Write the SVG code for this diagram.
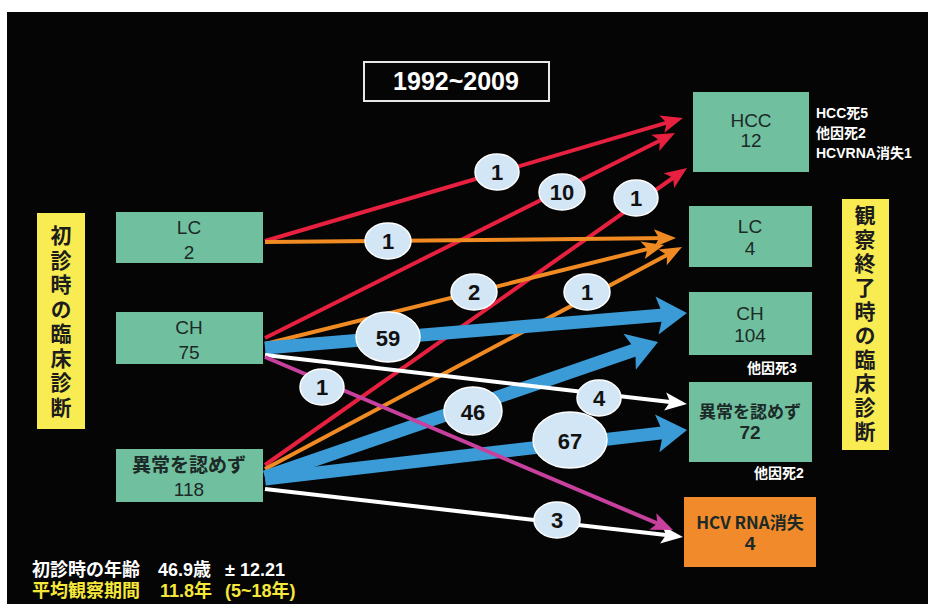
<svg xmlns="http://www.w3.org/2000/svg" width="928" height="604" viewBox="0 0 928 604">
<defs>
<style>
.bg{fill:#050505}
.node{fill:#70bf9f}
.hcv{fill:#f08a2a}
.ylab{fill:#f8ec52}
.nt{font-family:"Liberation Sans","Noto Sans CJK JP",sans-serif;font-size:19px;fill:#1c2a27;text-anchor:middle}
.njp{font-family:"Noto Sans CJK JP",sans-serif;font-size:17px;font-weight:bold;fill:#1c2a27;text-anchor:middle}
.vt{font-family:"Noto Sans CJK JP",sans-serif;font-size:21px;font-weight:bold;fill:#1c1c1c;text-anchor:middle;writing-mode:vertical-rl;text-orientation:upright}
.ann{font-family:"Liberation Sans","Noto Sans CJK JP",sans-serif;font-size:14px;font-weight:bold;fill:#ffffff}
.bt{font-family:"Liberation Sans","Noto Sans CJK JP",sans-serif;font-size:18px;font-weight:bold}
.thin{fill:none;stroke-width:4}
.thick{fill:none;stroke-width:13}
.lab{fill:#d2e6f5;stroke:#ffffff;stroke-width:1.5}
.lt{font-family:"Liberation Sans",sans-serif;font-size:22px;font-weight:bold;fill:#111;text-anchor:middle}
</style>
<marker id="aR" markerUnits="userSpaceOnUse" markerWidth="30" markerHeight="30" viewBox="-20 -15 30 30" refX="0" refY="0" orient="auto"><path d="M6,0 L-16,-9 L-11,0 L-16,9 Z" fill="#e82040"/></marker>
<marker id="aO" markerUnits="userSpaceOnUse" markerWidth="30" markerHeight="30" viewBox="-20 -15 30 30" refX="0" refY="0" orient="auto"><path d="M6,0 L-16,-9 L-11,0 L-16,9 Z" fill="#f08a22"/></marker>
<marker id="aW" markerUnits="userSpaceOnUse" markerWidth="30" markerHeight="30" viewBox="-20 -15 30 30" refX="0" refY="0" orient="auto"><path d="M6,0 L-16,-9 L-11,0 L-16,9 Z" fill="#ffffff"/></marker>
<marker id="aM" markerUnits="userSpaceOnUse" markerWidth="30" markerHeight="30" viewBox="-20 -15 30 30" refX="0" refY="0" orient="auto"><path d="M6,0 L-16,-9 L-11,0 L-16,9 Z" fill="#c8409e"/></marker>
<marker id="aB" markerUnits="userSpaceOnUse" markerWidth="40" markerHeight="40" viewBox="-20 -20 40 40" refX="0" refY="0" orient="auto"><path d="M14,0 L-16,-19 L-10,0 L-16,19 Z" fill="#3b9bd6"/></marker>
</defs>
<rect x="0" y="0" width="928" height="604" fill="#ffffff"/>
<rect class="bg" x="7" y="12" width="921" height="592"/>

<g id="title">
<rect x="364" y="62" width="185" height="39" fill="none" stroke="#e8e8e8" stroke-width="2"/>
<text x="456" y="90" font-family="Liberation Sans,sans-serif" font-size="25" font-weight="bold" fill="#ffffff" text-anchor="middle">1992~2009</text>
</g>

<g id="label-left">
<rect class="ylab" x="37" y="213" width="48" height="216"/>
<text class="vt" x="61" y="323" letter-spacing="3.5">初診時の臨床診断</text>
</g>

<g id="label-right">
<rect class="ylab" x="842" y="199" width="47" height="251"/>
<text class="vt" x="865" y="325" letter-spacing="3">観察終了時の臨床診断</text>
</g>

<g id="connectors">
<line class="thin" stroke="#e82040" x1="265" y1="241" x2="677.2" y2="119.7" marker-end="url(#aR)"/>
<line class="thin" stroke="#e82040" x1="265" y1="338" x2="669.6" y2="135.7" marker-end="url(#aR)"/>
<line class="thin" stroke="#e82040" x1="265" y1="465" x2="682.1" y2="171.5" marker-end="url(#aR)"/>
<line class="thin" stroke="#f08a22" x1="265" y1="242" x2="670" y2="238.1" marker-end="url(#aO)"/>
<line class="thin" stroke="#f08a22" x1="265" y1="344" x2="658.2" y2="246.4" marker-end="url(#aO)"/>
<line class="thin" stroke="#f08a22" x1="265" y1="469" x2="676.7" y2="249.8" marker-end="url(#aO)"/>
<line class="thick" stroke="#3b9bd6" x1="265" y1="348" x2="673" y2="314.2" marker-end="url(#aB)"/>
<line class="thick" stroke="#3b9bd6" x1="265" y1="477" x2="644.8" y2="346.5" marker-end="url(#aB)"/>
<line class="thick" stroke="#3b9bd6" x1="265" y1="479" x2="673.1" y2="431.6" marker-end="url(#aB)"/>
<line class="thin" stroke="#ffffff" x1="265" y1="355" x2="681" y2="403.3" marker-end="url(#aW)"/>
<line class="thin" stroke="#ffffff" x1="265" y1="489" x2="677" y2="536.3" marker-end="url(#aW)"/>
<line class="thin" stroke="#c8409e" x1="265" y1="357" x2="667.5" y2="527.7" marker-end="url(#aM)"/>

<ellipse class="lab" cx="497" cy="172" rx="22" ry="18"/><text class="lt" x="497" y="180">1</text>
<ellipse class="lab" cx="562" cy="192" rx="23" ry="18"/><text class="lt" x="562" y="200">10</text>
<ellipse class="lab" cx="636" cy="198" rx="22" ry="18"/><text class="lt" x="636" y="206">1</text>
<ellipse class="lab" cx="388" cy="241" rx="23" ry="18"/><text class="lt" x="388" y="249">1</text>
<ellipse class="lab" cx="474" cy="292" rx="23" ry="18"/><text class="lt" x="474" y="300">2</text>
<ellipse class="lab" cx="587" cy="292" rx="23" ry="18"/><text class="lt" x="587" y="300">1</text>
<ellipse class="lab" cx="388" cy="337" rx="32" ry="25"/><text class="lt" x="388" y="346" font-size="24">59</text>
<ellipse class="lab" cx="322" cy="387" rx="22" ry="18"/><text class="lt" x="322" y="395">1</text>
<ellipse class="lab" cx="473" cy="411" rx="29" ry="24"/><text class="lt" x="473" y="420" font-size="24">46</text>
<ellipse class="lab" cx="599" cy="398" rx="22" ry="18"/><text class="lt" x="599" y="406">4</text>
<ellipse class="lab" cx="570" cy="440" rx="37" ry="28"/><text class="lt" x="570" y="449" font-size="24">67</text>
<ellipse class="lab" cx="557" cy="520" rx="23" ry="18"/><text class="lt" x="557" y="528">3</text>
</g>

<g id="src-lc">
<rect class="node" x="116" y="212" width="147" height="51"/>
<text class="nt" x="189" y="234">LC</text>
<text class="nt" x="189" y="259">2</text>
</g>
<g id="src-ch">
<rect class="node" x="116" y="312" width="147" height="52"/>
<text class="nt" x="189" y="334">CH</text>
<text class="nt" x="189" y="359">75</text>
</g>
<g id="src-normal">
<rect class="node" x="116" y="449" width="147" height="53"/>
<text class="nt" x="189" y="472" font-weight="bold" font-size="18">異常を認めず</text>
<text class="nt" x="189" y="496">118</text>
</g>

<g id="dst-hcc">
<rect class="node" x="693" y="92" width="116" height="80"/>
<text class="nt" x="751" y="127">HCC</text>
<text class="nt" x="751" y="147">12</text>
</g>
<g id="dst-lc">
<rect class="node" x="689" y="206" width="123" height="61"/>
<text class="nt" x="750" y="233">LC</text>
<text class="nt" x="750" y="255">4</text>
</g>
<g id="dst-ch">
<rect class="node" x="689" y="292" width="123" height="63"/>
<text class="nt" x="750" y="320">CH</text>
<text class="nt" x="750" y="342">104</text>
</g>
<g id="dst-normal">
<rect class="node" x="689" y="382" width="123" height="80"/>
<text class="njp" x="750" y="418">異常を認めず</text>
<text class="nt" x="750" y="439" font-weight="bold">72</text>
</g>
<g id="dst-hcv">
<rect class="hcv" x="684" y="497" width="132" height="70"/>
<text class="njp" x="750" y="529">HCV RNA消失</text>
<text class="nt" x="750" y="550" font-weight="bold">4</text>
</g>

<g id="annotations">
<text class="ann" x="816" y="118">HCC死5</text>
<text class="ann" x="816" y="138">他因死2</text>
<text class="ann" x="816" y="158">HCVRNA消失1</text>
<text class="ann" x="747" y="373">他因死3</text>
<text class="ann" x="754" y="478">他因死2</text>
</g>

<g id="footer">
<text class="bt" fill="#ffffff" x="32" y="576">初診時の年齢</text>
<text class="bt" fill="#ffffff" x="158" y="576" font-size="19">46.9歳</text>
<text class="bt" fill="#ffffff" x="225" y="576">± 12.21</text>
<text class="bt" fill="#f6e83a" x="32" y="597">平均観察期間</text>
<text class="bt" fill="#f6e83a" x="160" y="597" font-size="19">11.8年</text>
<text class="bt" fill="#f6e83a" x="225" y="597">(5~18年)</text>
</g>
</svg>
